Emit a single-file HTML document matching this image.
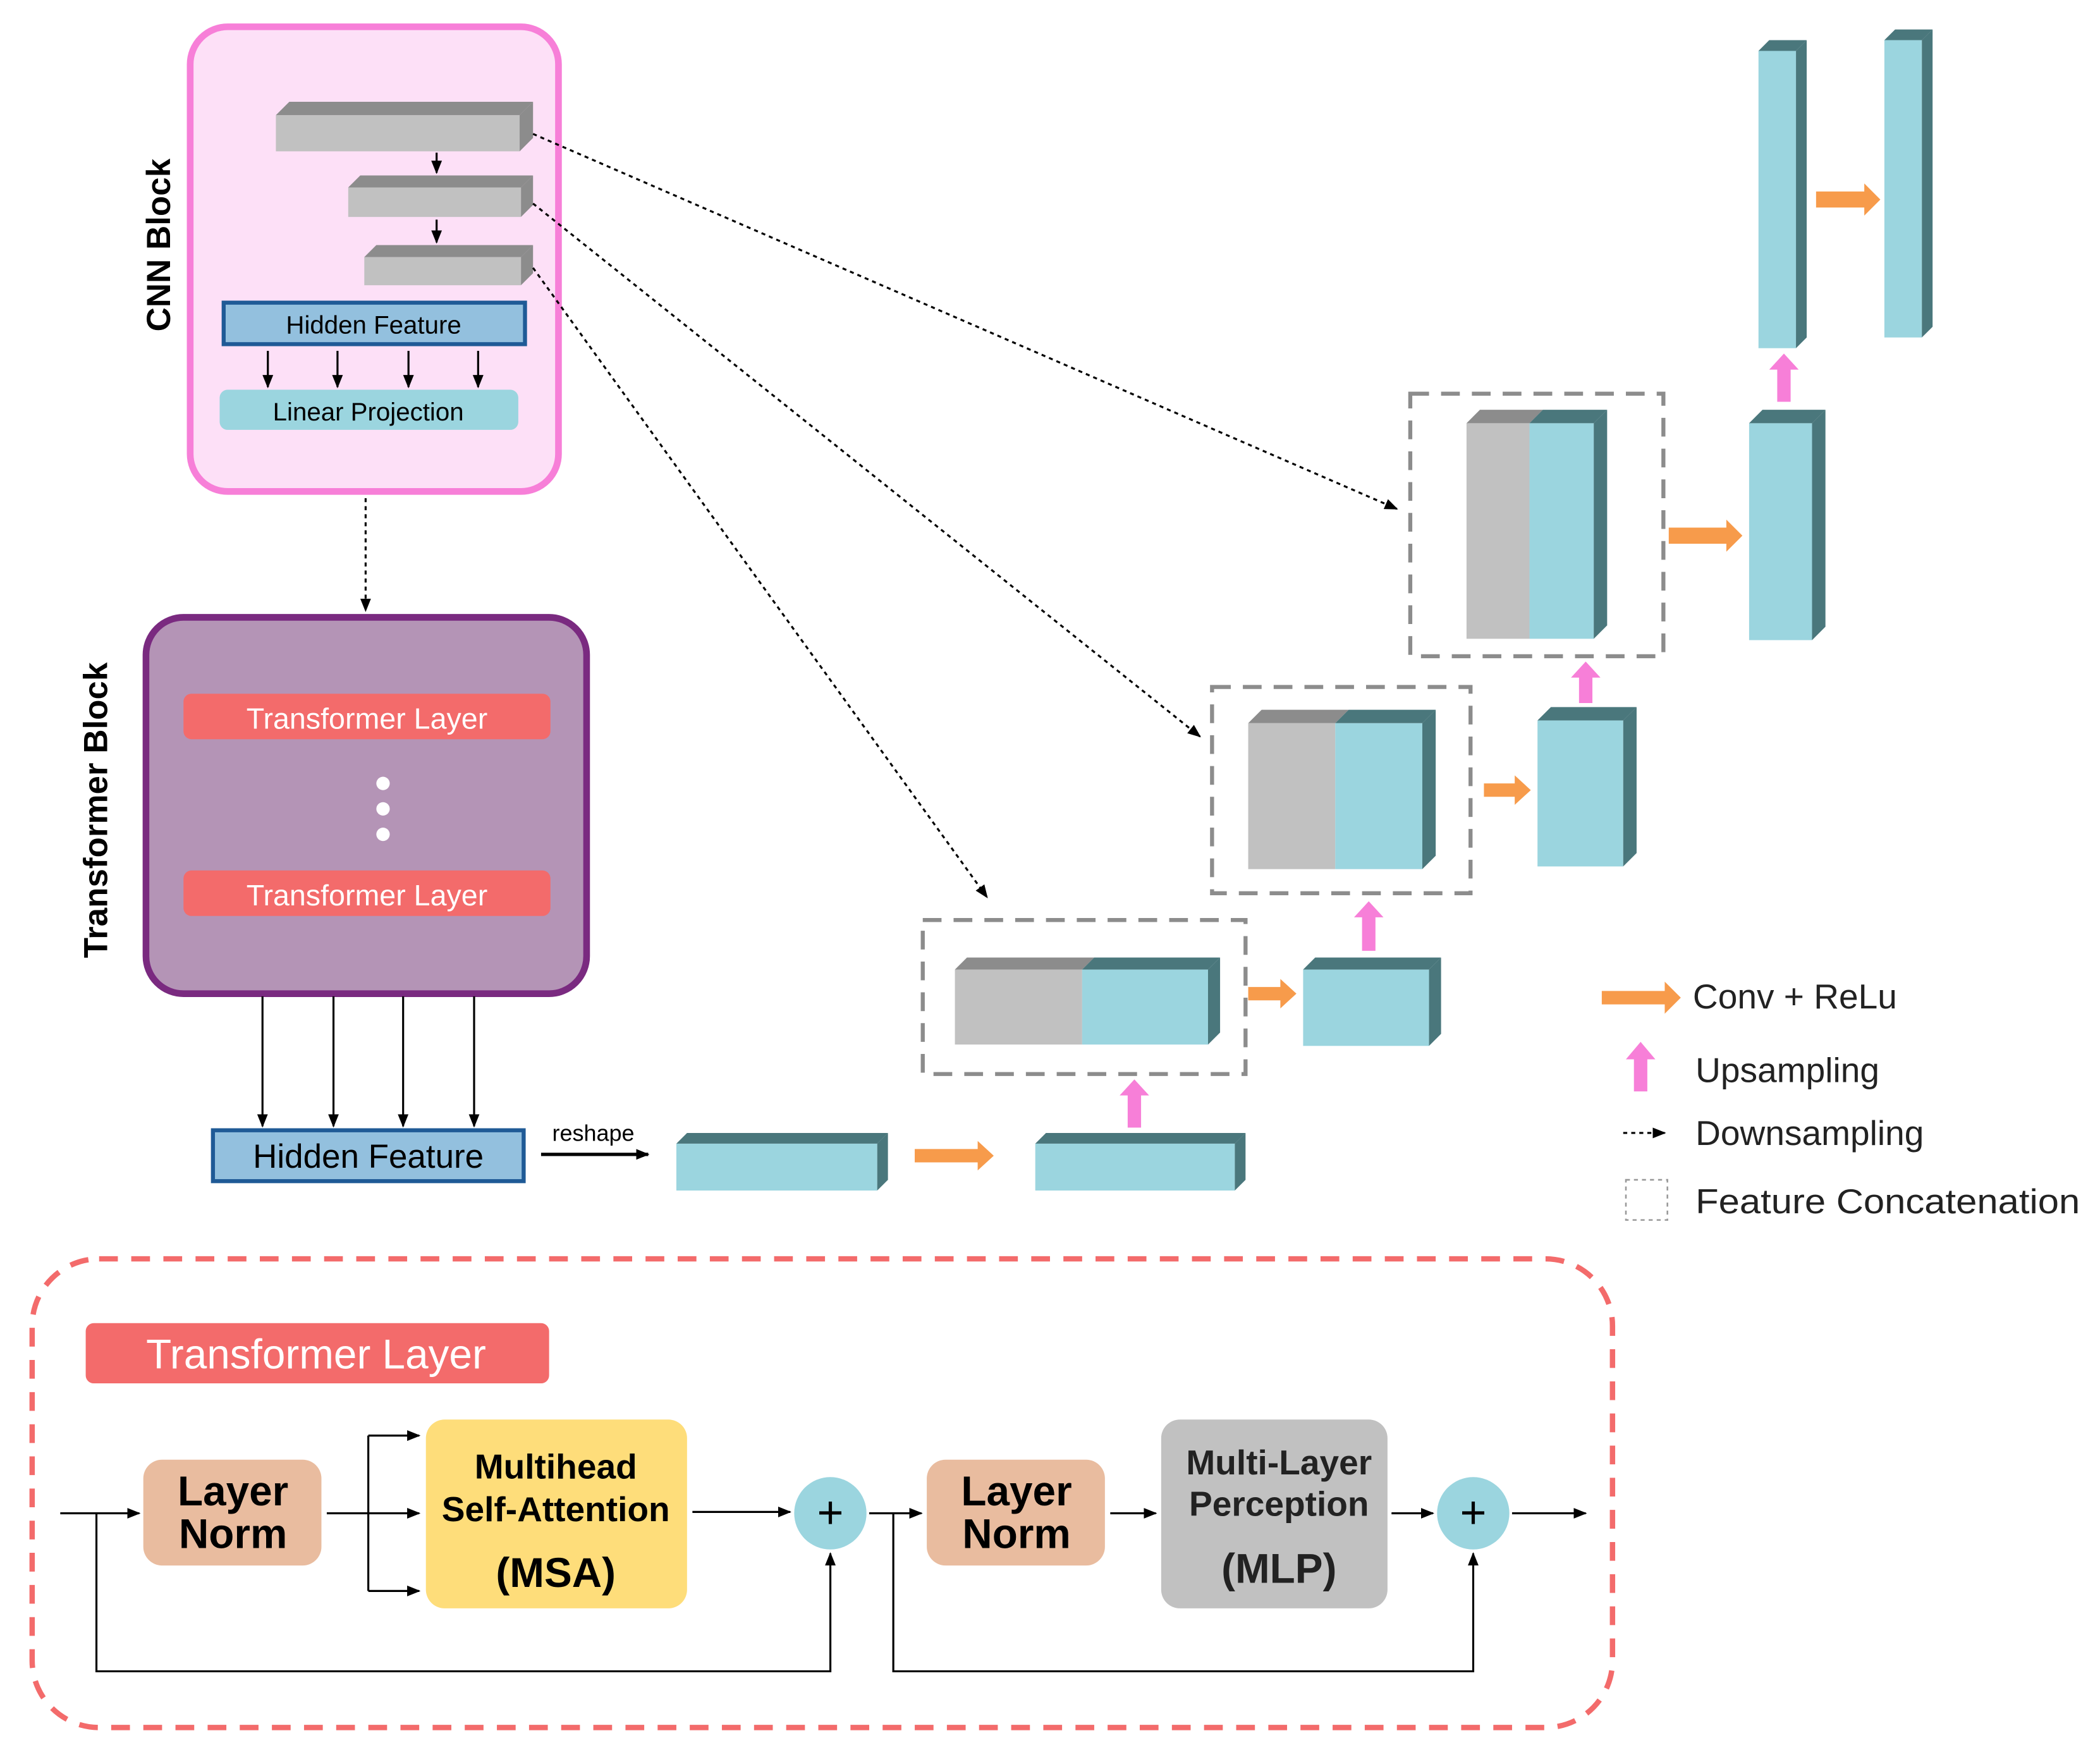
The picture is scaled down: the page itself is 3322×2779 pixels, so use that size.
<!DOCTYPE html>
<html><head><meta charset="utf-8"><style>html,body{margin:0;padding:0;background:#fff}svg{display:block}</style></head><body>
<svg width="3322" height="2779" viewBox="0 0 1568 1312" preserveAspectRatio="none" xmlns="http://www.w3.org/2000/svg" font-family="'Liberation Sans', sans-serif">
<defs>
<marker id="ah" markerWidth="10" markerHeight="10" refX="9" refY="5" orient="auto" markerUnits="userSpaceOnUse"><path d="M0,1 L10,5 L0,9 Z" fill="#000"/></marker>
</defs>
<rect width="1568" height="1312" fill="#fff"/>

<!-- CNN block -->
<rect x="142" y="20" width="275" height="347" rx="28" fill="#fde0f7" stroke="#f77fd8" stroke-width="5"/>
<text transform="translate(127,183) rotate(-90)" text-anchor="middle" font-size="25" font-weight="bold">CNN Block</text>
<rect x="206" y="86" width="182" height="27" fill="#c1c1c1"/>
<polygon points="206,86 216,76 398,76 388,86" fill="#8c8c8c"/>
<polygon points="388,86 398,76 398,103 388,113" fill="#8c8c8c"/>
<rect x="260" y="140" width="129" height="22" fill="#c1c1c1"/>
<polygon points="260,140 269,131 398,131 389,140" fill="#8c8c8c"/>
<polygon points="389,140 398,131 398,153 389,162" fill="#8c8c8c"/>
<rect x="272" y="192" width="117" height="21" fill="#c1c1c1"/>
<polygon points="272,192 281,183 398,183 389,192" fill="#8c8c8c"/>
<polygon points="389,192 398,183 398,204 389,213" fill="#8c8c8c"/>
<line x1="326" y1="114" x2="326" y2="129" stroke="#000" stroke-width="1.5" marker-end="url(#ah)"/>
<line x1="326" y1="164" x2="326" y2="181" stroke="#000" stroke-width="1.5" marker-end="url(#ah)"/>
<rect x="167" y="226" width="225" height="31" fill="#93c0de" stroke="#1f5a96" stroke-width="3"/>
<text x="279" y="249" text-anchor="middle" font-size="19">Hidden Feature</text>
<g stroke="#000" stroke-width="1.5">
<line x1="200" y1="262" x2="200" y2="289" marker-end="url(#ah)"/>
<line x1="252" y1="262" x2="252" y2="289" marker-end="url(#ah)"/>
<line x1="305" y1="262" x2="305" y2="289" marker-end="url(#ah)"/>
<line x1="357" y1="262" x2="357" y2="289" marker-end="url(#ah)"/>
</g>
<rect x="164" y="291" width="223" height="30" rx="6" fill="#9bd5df"/>
<text x="275" y="314" text-anchor="middle" font-size="19">Linear Projection</text>
<line x1="273" y1="372" x2="273" y2="456" stroke="#000" stroke-width="1.5" stroke-dasharray="3,3" marker-end="url(#ah)"/>

<!-- Transformer block -->
<rect x="109" y="461" width="329" height="281" rx="28" fill="#b494b6" stroke="#7a2a80" stroke-width="5"/>
<text transform="translate(80,605) rotate(-90)" text-anchor="middle" font-size="25" font-weight="bold">Transformer Block</text>
<rect x="137" y="518" width="274" height="34" rx="6" fill="#f36b6b"/>
<text x="274" y="544" text-anchor="middle" font-size="22" fill="#fff">Transformer Layer</text>
<circle cx="286" cy="585" r="5" fill="#fff"/><circle cx="286" cy="604" r="5" fill="#fff"/><circle cx="286" cy="623" r="5" fill="#fff"/>
<rect x="137" y="650" width="274" height="34" rx="6" fill="#f36b6b"/>
<text x="274" y="676" text-anchor="middle" font-size="22" fill="#fff">Transformer Layer</text>
<g stroke="#000" stroke-width="1.5">
<line x1="196" y1="744" x2="196" y2="841" marker-end="url(#ah)"/>
<line x1="249" y1="744" x2="249" y2="841" marker-end="url(#ah)"/>
<line x1="301" y1="744" x2="301" y2="841" marker-end="url(#ah)"/>
<line x1="354" y1="744" x2="354" y2="841" marker-end="url(#ah)"/>
</g>
<rect x="159" y="844" width="232" height="38" fill="#93c0de" stroke="#1f5a96" stroke-width="3"/>
<text x="275" y="872" text-anchor="middle" font-size="25">Hidden Feature</text>
<line x1="404" y1="862" x2="484" y2="862" stroke="#000" stroke-width="2.5" marker-end="url(#ah)"/>
<text x="443" y="852" text-anchor="middle" font-size="17">reshape</text>

<!-- dotted skip lines -->
<g stroke="#000" stroke-width="1.5" stroke-dasharray="3,3" fill="none">
<line x1="398" y1="100" x2="1043" y2="380" marker-end="url(#ah)"/>
<line x1="398" y1="152" x2="896" y2="550" marker-end="url(#ah)"/>
<line x1="398" y1="200" x2="737" y2="670" marker-end="url(#ah)"/>
</g>

<!-- decoder -->
<rect x="505" y="854" width="150" height="35" fill="#9bd5df"/>
<polygon points="505,854 513,846 663,846 655,854" fill="#4a777c"/>
<polygon points="655,854 663,846 663,881 655,889" fill="#4a777c"/>
<rect x="773" y="854" width="149" height="35" fill="#9bd5df"/>
<polygon points="773,854 781,846 930,846 922,854" fill="#4a777c"/>
<polygon points="922,854 930,846 930,881 922,889" fill="#4a777c"/>
<polygon points="683,858 730,858 730,852 742,863 730,874 730,868 683,868" fill="#f79b4b"/>

<g fill="none" stroke="#8c8c8c" stroke-width="3" stroke-dasharray="14,9">
<rect x="689" y="687" width="241" height="115"/>
<rect x="905" y="513" width="193" height="154"/>
<rect x="1053" y="294" width="189" height="196"/>
</g>
<rect x="713" y="724" width="95" height="56" fill="#c1c1c1"/>
<rect x="808" y="724" width="94" height="56" fill="#9bd5df"/>
<polygon points="713,724 722,715 817,715 808,724" fill="#8c8c8c"/>
<polygon points="808,724 817,715 911,715 902,724" fill="#4a777c"/>
<polygon points="902,724 911,715 911,771 902,780" fill="#4a777c"/>
<polygon points="842,842 852,842 852,818 858,818 847,806 836,818 842,818" fill="#f77fd8"/>
<polygon points="932,737 956,737 956,731 968,742 956,753 956,747 932,747" fill="#f79b4b"/>
<rect x="973" y="724" width="94" height="57" fill="#9bd5df"/>
<polygon points="973,724 982,715 1076,715 1067,724" fill="#4a777c"/>
<polygon points="1067,724 1076,715 1076,772 1067,781" fill="#4a777c"/>
<polygon points="1017,710 1027,710 1027,685 1033,685 1022,673 1011,685 1017,685" fill="#f77fd8"/>

<rect x="932" y="540" width="65" height="109" fill="#c1c1c1"/>
<rect x="997" y="540" width="65" height="109" fill="#9bd5df"/>
<polygon points="932,540 942,530 1007,530 997,540" fill="#8c8c8c"/>
<polygon points="997,540 1007,530 1072,530 1062,540" fill="#4a777c"/>
<polygon points="1062,540 1072,530 1072,639 1062,649" fill="#4a777c"/>
<polygon points="1108,585 1131,585 1131,579 1143,590 1131,601 1131,595 1108,595" fill="#f79b4b"/>
<rect x="1148" y="538" width="64" height="109" fill="#9bd5df"/>
<polygon points="1148,538 1158,528 1222,528 1212,538" fill="#4a777c"/>
<polygon points="1212,538 1222,528 1222,637 1212,647" fill="#4a777c"/>
<polygon points="1179,525 1189,525 1189,506 1195,506 1184,494 1173,506 1179,506" fill="#f77fd8"/>

<rect x="1095" y="316" width="47" height="161" fill="#c1c1c1"/>
<rect x="1142" y="316" width="48" height="161" fill="#9bd5df"/>
<polygon points="1095,316 1105,306 1152,306 1142,316" fill="#8c8c8c"/>
<polygon points="1142,316 1152,306 1200,306 1190,316" fill="#4a777c"/>
<polygon points="1190,316 1200,306 1200,467 1190,477" fill="#4a777c"/>
<polygon points="1246,394 1289,394 1289,388 1301,400 1289,412 1289,406 1246,406" fill="#f79b4b"/>
<rect x="1306" y="316" width="47" height="162" fill="#9bd5df"/>
<polygon points="1306,316 1316,306 1363,306 1353,316" fill="#4a777c"/>
<polygon points="1353,316 1363,306 1363,468 1353,478" fill="#4a777c"/>
<polygon points="1327,300 1337,300 1337,276 1343,276 1332,264 1321,276 1327,276" fill="#f77fd8"/>

<rect x="1313" y="38" width="28" height="222" fill="#9bd5df"/>
<polygon points="1313,38 1321,30 1349,30 1341,38" fill="#4a777c"/>
<polygon points="1341,38 1349,30 1349,252 1341,260" fill="#4a777c"/>
<rect x="1407" y="30" width="28" height="222" fill="#9bd5df"/>
<polygon points="1407,30 1415,22 1443,22 1435,30" fill="#4a777c"/>
<polygon points="1435,30 1443,22 1443,244 1435,252" fill="#4a777c"/>
<polygon points="1356,143 1392,143 1392,137 1404,149 1392,161 1392,155 1356,155" fill="#f79b4b"/>

<!-- legend -->
<polygon points="1196,740 1243,740 1243,733 1255,745 1243,757 1243,750 1196,750" fill="#f79b4b"/>
<text x="1264" y="753" font-size="26" fill="#222">Conv + ReLu</text>
<polygon points="1220,815 1230,815 1230,791 1236,791 1225,778 1214,791 1220,791" fill="#f77fd8"/>
<text x="1266" y="808" font-size="26" fill="#222">Upsampling</text>
<line x1="1212" y1="846" x2="1243" y2="846" stroke="#000" stroke-width="1.5" stroke-dasharray="3,3" marker-end="url(#ah)"/>
<text x="1266" y="855" font-size="26" fill="#222">Downsampling</text>
<rect x="1214" y="881" width="31" height="30" fill="none" stroke="#999" stroke-width="1.2" stroke-dasharray="3,3"/>
<text x="1266" y="906" font-size="26" fill="#222" textLength="287" lengthAdjust="spacingAndGlyphs">Feature Concatenation</text>

<!-- Transformer layer detail -->
<rect x="24" y="940" width="1180" height="350" rx="50" fill="none" stroke="#f36b6b" stroke-width="4" stroke-dasharray="14,10"/>
<rect x="64" y="988" width="346" height="45" rx="6" fill="#f36b6b"/>
<text x="236" y="1022" text-anchor="middle" font-size="31" fill="#fff">Transformer Layer</text>

<rect x="107" y="1090" width="133" height="79" rx="14" fill="#e9bc9f"/>
<text x="174" y="1124" text-anchor="middle" font-size="31" font-weight="bold">Layer</text>
<text x="174" y="1156" text-anchor="middle" font-size="31" font-weight="bold">Norm</text>
<rect x="318" y="1060" width="195" height="141" rx="14" fill="#fedd7a"/>
<text x="415" y="1104" text-anchor="middle" font-size="26" font-weight="bold">Multihead</text>
<text x="415" y="1136" text-anchor="middle" font-size="26" font-weight="bold">Self-Attention</text>
<text x="415" y="1185" text-anchor="middle" font-size="31" font-weight="bold">(MSA)</text>
<circle cx="620" cy="1130" r="27" fill="#9bd5df"/>
<text x="620" y="1141" text-anchor="middle" font-size="34">+</text>
<rect x="692" y="1090" width="133" height="79" rx="14" fill="#e9bc9f"/>
<text x="759" y="1124" text-anchor="middle" font-size="31" font-weight="bold">Layer</text>
<text x="759" y="1156" text-anchor="middle" font-size="31" font-weight="bold">Norm</text>
<rect x="867" y="1060" width="169" height="141" rx="14" fill="#c1c1c1"/>
<text x="955" y="1101" text-anchor="middle" font-size="26" font-weight="bold" fill="#222">Multi-Layer</text>
<text x="955" y="1132" text-anchor="middle" font-size="26" font-weight="bold" fill="#222">Perception</text>
<text x="955" y="1182" text-anchor="middle" font-size="31" font-weight="bold" fill="#222">(MLP)</text>
<circle cx="1100" cy="1130" r="27" fill="#9bd5df"/>
<text x="1100" y="1141" text-anchor="middle" font-size="34">+</text>

<g stroke="#000" stroke-width="1.5" fill="none">
<line x1="45" y1="1130" x2="104" y2="1130" marker-end="url(#ah)"/>
<polyline points="72,1130 72,1248 620,1248 620,1160" marker-end="url(#ah)"/>
<line x1="244" y1="1130" x2="275" y2="1130"/>
<line x1="275" y1="1072" x2="275" y2="1188"/>
<line x1="275" y1="1072" x2="313" y2="1072" marker-end="url(#ah)"/>
<line x1="275" y1="1130" x2="313" y2="1130" marker-end="url(#ah)"/>
<line x1="275" y1="1188" x2="313" y2="1188" marker-end="url(#ah)"/>
<line x1="517" y1="1129" x2="590" y2="1129" marker-end="url(#ah)"/>
<line x1="649" y1="1130" x2="688" y2="1130" marker-end="url(#ah)"/>
<polyline points="667,1130 667,1248 1100,1248 1100,1160" marker-end="url(#ah)"/>
<line x1="829" y1="1130" x2="863" y2="1130" marker-end="url(#ah)"/>
<line x1="1039" y1="1130" x2="1070" y2="1130" marker-end="url(#ah)"/>
<line x1="1129" y1="1130" x2="1184" y2="1130" marker-end="url(#ah)"/>
</g>
</svg>
</body></html>
